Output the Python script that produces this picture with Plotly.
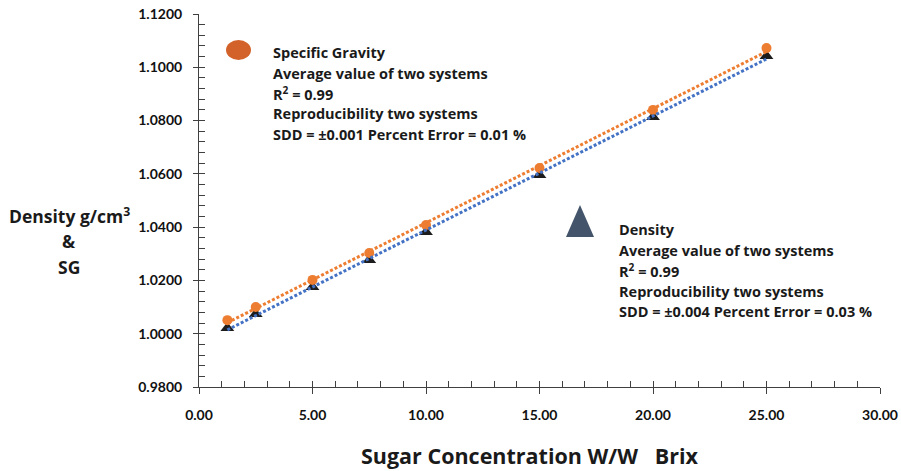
import numpy as np
import plotly.graph_objects as go

# ---------------- data ----------------
brix = [1.25, 2.5, 5, 7.5, 10, 15, 20, 25]
sg = [1.0051, 1.0100, 1.0202, 1.0303, 1.0408, 1.0622, 1.0840, 1.1072]
density = [1.0021, 1.0074, 1.0175, 1.0277, 1.0382, 1.0596, 1.0813, 1.1042]

y_tick_vals = [0.98, 1.00, 1.02, 1.04, 1.06, 1.08, 1.10, 1.12]
y_tick_text = ["0.9800", "1.0000", "1.0200", "1.0400", "1.0600", "1.0800", "1.1000", "1.1200"]
x_tick_vals = [0, 5, 10, 15, 20, 25, 30]
x_tick_text = ["0.00", "5.00", "10.00", "15.00", "20.00", "25.00", "30.00"]

sg_legend = ["Specific Gravity", "Average value of two systems", "R<sup>2</sup> = 0.99",
             "Reproducibility two systems", "SDD = ±0.001 Percent Error = 0.01 %"]
density_legend = ["Density", "Average value of two systems", "R<sup>2</sup> = 0.99",
                  "Reproducibility two systems", "SDD = ±0.004 Percent Error = 0.03 %"]
y_title_lines = ["Density g/cm<sup>3</sup>", "&", "SG"]
x_title = "Sugar Concentration W/W\u00a0\u00a0\u00a0Brix"

# ---------------- layout geometry ----------------
W, H = 901, 471
L, R, T, B = 199, 21, 14, 84
PW, PH = W - L - R, H - T - B
FONT = "Open Sans"
TICK_FONT = "Lato"


def px(xp):
    return (xp - L) / PW


def py(yp):
    return (H - B - yp) / PH


# linear trend lines
xs = np.array(brix, dtype=float)
xline = np.array([xs.min(), xs.max()])
sg_fit = np.polyfit(xs, sg, 1)
de_fit = np.polyfit(xs, density, 1)

fig = go.Figure()
fig.add_trace(go.Scatter(x=brix, y=density, mode="markers",
                         marker=dict(symbol="triangle-up", size=12, color="#1c1c1c"),
                         showlegend=False))
fig.add_trace(go.Scatter(x=brix, y=sg, mode="markers",
                         marker=dict(symbol="circle", size=10, color="#ED7D31"),
                         showlegend=False))
fig.add_trace(go.Scatter(x=xline, y=np.polyval(sg_fit, xline), mode="lines",
                         line=dict(color="#ED7D31", width=3, dash="3px,2px"),
                         showlegend=False))
fig.add_trace(go.Scatter(x=xline, y=np.polyval(de_fit, xline), mode="lines",
                         line=dict(color="#4472C4", width=3, dash="3px,2px"),
                         showlegend=False))
# dummy trace so the overlay axes (inside ticks) are drawn
fig.add_trace(go.Scatter(x=[], y=[], xaxis="x2", yaxis="y2", showlegend=False))

axis_color = "#404040"
tickfont = dict(family=TICK_FONT, size=14, color="#111111", weight="bold")

fig.update_layout(
    width=W, height=H,
    margin=dict(l=L, r=R, t=T, b=B, autoexpand=False),
    paper_bgcolor="white", plot_bgcolor="white",
    showlegend=False,
    xaxis=dict(range=[0, 30], tickvals=x_tick_vals, ticktext=x_tick_text,
               showgrid=False, zeroline=False, showline=True, linecolor=axis_color,
               linewidth=1, ticks="outside", ticklen=6, tickcolor=axis_color,
               tickfont=tickfont, ticklabelstandoff=9, automargin=False),
    yaxis=dict(range=[0.98, 1.12], tickvals=y_tick_vals, ticktext=y_tick_text,
               showgrid=False, zeroline=False, showline=True, linecolor=axis_color,
               linewidth=1, ticks="outside", ticklen=5, tickcolor=axis_color,
               tickfont=tickfont, ticklabelstandoff=8, automargin=False),
    xaxis2=dict(range=[0, 30], overlaying="x", side="bottom", anchor="y2",
                tick0=0, dtick=1, ticks="inside", ticklen=6, tickcolor=axis_color,
                showticklabels=False, showgrid=False, zeroline=False, showline=False,
                automargin=False),
    yaxis2=dict(range=[0.98, 1.12], overlaying="y", side="left", anchor="x2",
                tick0=0.98, dtick=0.004, ticks="inside", ticklen=6, tickcolor=axis_color,
                showticklabels=False, showgrid=False, zeroline=False, showline=False,
                automargin=False),
)

shapes = []
annotations = []

# legend symbol: specific gravity (orange ellipse)
shapes.append(dict(type="circle", xref="paper", yref="paper",
                   x0=px(226), x1=px(251), y0=py(60), y1=py(40),
                   fillcolor="#D2622A", line=dict(width=0)))
# legend symbol: density (slate triangle)
tx0, tx1, ty_top, ty_bot = px(566), px(594), py(205), py(237)
shapes.append(dict(type="path", xref="paper", yref="paper",
                   path=f"M {tx0} {ty_bot} L {tx1} {ty_bot} L {(tx0 + tx1) / 2} {ty_top} Z",
                   fillcolor="#44546A", line=dict(width=0)))

legend_font = dict(family=FONT, size=14.5, color="#1a1a1a")
for i, line in enumerate(sg_legend):
    annotations.append(dict(text=f"<b>{line}</b>", xref="paper", yref="paper",
                            x=px(271), y=py(53 + 20.3 * i), xanchor="left", yanchor="middle",
                            showarrow=False, font=legend_font))
for i, line in enumerate(density_legend):
    annotations.append(dict(text=f"<b>{line}</b>", xref="paper", yref="paper",
                            x=px(617), y=py(230 + 20.4 * i), xanchor="left", yanchor="middle",
                            showarrow=False, font=legend_font))

ytitle_font = dict(family=FONT, size=17.5, color="#1a1a1a")
for i, line in enumerate(y_title_lines):
    annotations.append(dict(text=f"<b>{line}</b>", xref="paper", yref="paper",
                            x=px(69), y=py(215 + 26 * i), xanchor="center", yanchor="middle",
                            showarrow=False, font=ytitle_font))

annotations.append(dict(text=f"<b>{x_title}</b>", xref="paper", yref="paper",
                        x=px(529), y=py(455), xanchor="center", yanchor="middle",
                        showarrow=False, font=dict(family=FONT, size=21.5, color="#1a1a1a")))

fig.update_layout(shapes=shapes, annotations=annotations)
fig.write_html("out.html", config={"displayModeBar": False},
               post_script="document.body.style.margin='0px';"
                           "document.body.style.overflow='hidden';")
